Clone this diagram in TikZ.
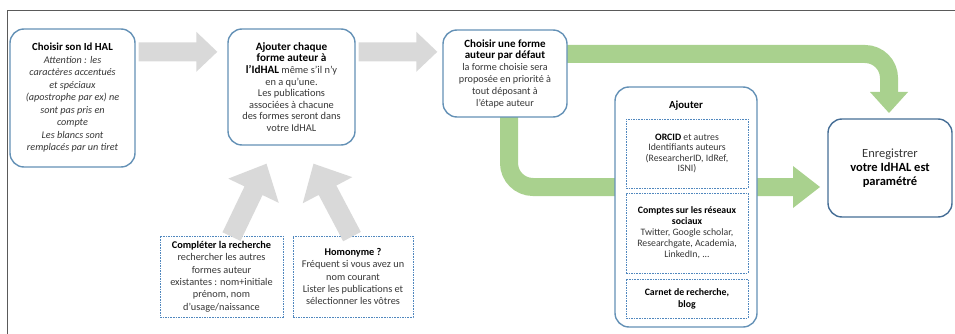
\documentclass[tikz,border=0pt]{standalone}
\usepackage{fontspec}
\setmainfont{Carlito}
\usetikzlibrary{calc}
\definecolor{boxline}{RGB}{100,145,182}
\definecolor{boxdark}{RGB}{70,110,150}
\definecolor{dashline}{RGB}{80,135,190}
\definecolor{grayarrow}{RGB}{217,217,217}
\definecolor{greenarrow}{RGB}{169,209,142}
\definecolor{txtgray}{RGB}{55,55,55}
\definecolor{framegray}{RGB}{90,90,90}
\newcommand{\fsz}[2]{\fontsize{#1}{#2}\selectfont}
\newcommand{\blockarrow}[6]{%
  \coordinate (ba-b) at ($(#3)!#6!(#2)$);
  \fill[#1] ($(#2)!#4!90:(#3)$) -- ($(ba-b)!#4!90:(#3)$) -- ($(ba-b)!#5!90:(#3)$)
    -- (#3) -- ($(ba-b)!#5!-90:(#3)$) -- ($(ba-b)!#4!-90:(#3)$) -- ($(#2)!#4!-90:(#3)$) -- cycle;}
\tikzset{
  rbox/.style={draw=boxline, line width=1.4pt, rounded corners=14pt, fill=white,
    align=center, text=txtgray, inner sep=1pt},
  dbox/.style={draw=dashline, line width=0.8pt, dash pattern=on 1.6pt off 1pt, fill=white,
    align=center, text=txtgray, inner sep=1pt},
  grayblock/.style={fill=grayarrow},
  greenshaft/.style={draw=greenarrow, line width=18pt, rounded corners=24pt},
  greenhead/.style={fill=greenarrow},
  framestyle/.style={draw=framegray, line width=1pt}
}
\begin{document}
\begin{tikzpicture}[x=1pt,y=-1pt]
\useasboundingbox (0,0) rectangle (955,334);
% frame
\coordinate (fr-tr) at (955,10.5);
\coordinate (fr-tl) at (7.5,10.5);
\coordinate (fr-bl) at (7.5,334);
\draw[framestyle] (fr-tr) -- (fr-tl) -- (fr-bl);

% green arrows (behind boxes)
\coordinate (g1s) at (567,54);
\coordinate (g1b) at (889,92);
\coordinate (g1t) at (889,113);
\coordinate (g2s) at (509,110);
\coordinate (g2b) at (793,187);
\coordinate (g2t) at (820,187);
\draw[greenshaft] (g1s) -| (g1b);
\fill[greenhead] ($(g1b)+(-19,0)$) -- ($(g1b)+(19,0)$) -- (g1t) -- cycle;
\draw[greenshaft] (g2s) |- (g2b);
\fill[greenhead] ($(g2b)+(0,-21)$) -- ($(g2b)+(0,21)$) -- (g2t) -- cycle;

% main boxes
\node[rbox, minimum width=125pt, minimum height=138pt, font=\fsz{10.2}{12.5}] (b1) at (72.5,98)
 {\textbf{\color{black}\fsz{10.8}{12.5}Choisir son Id HAL}\\
  \textit{Attention : les}\\ \textit{caractères accentués}\\ \textit{et spéciaux}\\
  \textit{(apostrophe par ex) ne}\\ \textit{sont pas pris en}\\ \textit{compte}\\
  \textit{Les blancs sont}\\ \textit{remplacés par un tiret}};
\node[rbox, minimum width=127pt, minimum height=116pt, font=\fsz{10.4}{11.6}] (b2) at (291.5,87)
 {\textbf{\color{black}\fsz{11.2}{11.6}Ajouter chaque}\\
  \textbf{\color{black}\fsz{11.2}{11.6}forme auteur à}\\
  \textbf{\color{black}\fsz{11.2}{11.6}l'IdHAL} même s'il n'y\\ en a qu'une.\\
  Les publications\\ associées à chacune\\ des formes seront dans\\ votre IdHAL};
\node[rbox, minimum width=124pt, minimum height=87pt, font=\fsz{10.2}{11.8}] (b3) at (505,73.5)
 {\textbf{\color{black}\fsz{11}{11.8}Choisir une forme}\\
  \textbf{\color{black}\fsz{11}{11.8}auteur par défaut}\\
  la forme choisie sera\\ proposée en priorité à\\ tout déposant à\\ l'étape auteur};

% Ajouter group
\node[rbox, minimum width=142pt, minimum height=240pt] (aj) at (686,207) {};
\node[font=\fsz{10.8}{12}\bfseries, text=black] (ajt) at (686,106) {Ajouter};
\node[dbox, minimum width=122pt, minimum height=69pt, font=\fsz{9.8}{10.6}] (in1) at (687,153.5)
 {\textbf{\color{black}ORCID} et autres\\ Identifiants auteurs\\ (ResearcherID, IdRef,\\ ISNI)};
\node[dbox, minimum width=122pt, minimum height=80pt, font=\fsz{9.8}{11}] (in2) at (687,233)
 {\textbf{\color{black}Comptes sur les réseaux}\\ \textbf{\color{black}sociaux}\\
  Twitter, Google scholar,\\ Researchgate, Academia,\\ LinkedIn, ...};
\node[dbox, minimum width=122pt, minimum height=39pt, font=\fsz{9.8}{12}] (in3) at (687,298.5)
 {\textbf{\color{black}Carnet de recherche,}\\ \textbf{\color{black}blog}};

% Enregistrer
\node[rbox, draw=boxdark, minimum width=124pt, minimum height=98pt, font=\fsz{12.5}{14}] (b5) at (890,168)
 {Enregistrer\\ \textbf{\color{black}votre IdHAL est}\\ \textbf{\color{black}paramétré}};

% dashed bottom boxes
\node[dbox, minimum width=123pt, minimum height=81pt, font=\fsz{10.3}{12.4}] (d1) at (221.5,276.5)
 {\textbf{\color{black}Compléter la recherche}\\ rechercher les autres\\ formes auteur\\
  existantes : nom+initiale\\ prénom, nom\\ d'usage/naissance};
\node[dbox, minimum width=120pt, minimum height=81pt, font=\fsz{10.3}{12.4}] (d2) at (353,276.5)
 {\textbf{\color{black}Homonyme ?}\\ Fréquent si vous avez un\\ nom courant\\
  Lister les publications et\\ sélectionner les vôtres};

% gray block arrows
\coordinate (a1s) at ($(b1.north east)+(3,23.5)$);
\coordinate (a1e) at ($(b2.north west)+(-10,23.5)$);
\blockarrow{grayblock}{a1s}{a1e}{9.5pt}{20pt}{21pt}
\coordinate (a2s) at ($(b2.north east)+(3,23.5)$);
\coordinate (a2e) at ($(b3.north west)+(-5,22.5)$);
\blockarrow{grayblock}{a2s}{a2e}{9.5pt}{20pt}{21pt}
\coordinate (a3s) at ($(d1.north)+(10,1)$);
\coordinate (a3e) at ($(b2.south)+(-25,18)$);
\blockarrow{grayblock}{a3s}{a3e}{10pt}{28pt}{30pt}
\coordinate (a4s) at ($(d2.north)+(-1,1)$);
\coordinate (a4e) at ($(b2.south)+(22,18)$);
\blockarrow{grayblock}{a4s}{a4e}{10pt}{28pt}{30pt}
\end{tikzpicture}
\end{document}
